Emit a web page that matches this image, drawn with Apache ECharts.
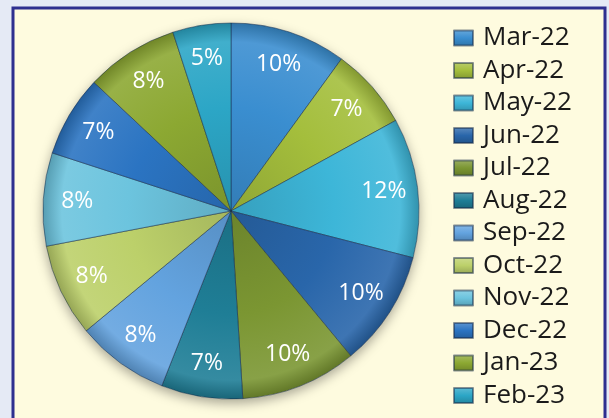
<!DOCTYPE html>
<html>
<head>
<meta charset="utf-8">
<title>Monthly share</title>
<script src="https://cdn.jsdelivr.net/npm/echarts@6/dist/echarts.min.js"></script>
<style>
  html, body { margin: 0; padding: 0; background: #e5eaf5; }
  #chart { width: 609px; height: 418px; }
</style>
</head>
<body>
<div id="chart"></div>
<script>
// months and their share (%)
const months = ['Mar-22', 'Apr-22', 'May-22', 'Jun-22', 'Jul-22', 'Aug-22',
  'Sep-22', 'Oct-22', 'Nov-22', 'Dec-22', 'Jan-23', 'Feb-23']
const shares = [10, 7, 12, 10, 10, 7, 8, 8, 8, 7, 8, 5]
const colors = ['#3a8ed0', '#a4be3c', '#3db6d8', '#2966aa', '#7b9632', '#1f7e96',
  '#63a3df', '#bcd06a', '#6cc4de', '#2b74c2', '#8ca832', '#2ca6c6']

const cx = 231, cy = 211, R = 188

// lighten (amt > 0) or darken (amt < 0) a hex colour
function shade(hex, amt) {
  let n = parseInt(hex.slice(1), 16)
  let rgb = [n >> 16, (n >> 8) & 255, n & 255].map(c => {
    let v = amt > 0 ? c + (255 - c) * amt : c * (1 + amt)
    return Math.round(Math.max(0, Math.min(255, v)))
  })
  return 'rgb(' + rgb.join(',') + ')'
}

function sliceFill(c) {
  return {
    type: 'radial', x: cx, y: cy, r: R, global: true,
    colorStops: [
      { offset: 0, color: shade(c, -0.12) },
      { offset: 0.55, color: c },
      { offset: 0.9, color: shade(c, 0.1) },
      { offset: 1, color: shade(c, -0.2) }
    ]
  }
}

function iconFill(c) {
  return {
    type: 'linear', x: 0, y: 0, x2: 0, y2: 1,
    colorStops: [
      { offset: 0, color: shade(c, 0.25) },
      { offset: 0.5, color: c },
      { offset: 1, color: shade(c, -0.2) }
    ]
  }
}

const pieData = months.map((m, i) => ({
  name: m,
  value: shares[i],
  itemStyle: { color: sliceFill(colors[i]) }
}))

const labelData = months.map((m, i) => ({ name: m, value: shares[i] }))

const option = {
  backgroundColor: '#e5eaf5',
  animation: false,
  graphic: [
    {
      type: 'rect', z: -10,
      shape: { x: 13, y: 8, width: 592, height: 420 },
      style: { fill: '#fefbdf', stroke: '#2e2f8f', lineWidth: 3 }
    }
  ],
  legend: {
    orient: 'vertical',
    left: 453,
    top: 25,
    height: 400,
    padding: 0,
    itemWidth: 19,
    itemHeight: 15,
    itemGap: 6.5,
    icon: 'rect',
    selectedMode: false,
    textStyle: {
      fontFamily: 'Open Sans', fontSize: 26, color: '#1a1a1a',
      lineHeight: 26, padding: [0, 0, 0, 5]
    },
    data: months.map((m, i) => ({ name: m, itemStyle: { color: iconFill(colors[i]) } }))
  },
  series: [
    {
      // soft shadow under the pie
      type: 'pie',
      silent: true,
      center: [cx, cy],
      radius: R,
      label: { show: false },
      itemStyle: { color: '#fefbdf', shadowBlur: 12, shadowOffsetY: 4, shadowColor: 'rgba(0,0,0,0.35)' },
      data: [{ name: '_bg', value: 1 }],
      z: 1
    },
    {
      type: 'pie',
      center: [cx, cy],
      radius: R,
      startAngle: 90,
      clockwise: true,
      label: { show: false },
      labelLine: { show: false },
      itemStyle: { borderColor: 'rgba(20,40,70,0.5)', borderWidth: 1 },
      emphasis: { disabled: true },
      data: pieData,
      z: 2
    },
    {
      // ring that only carries the percentage labels
      type: 'pie',
      silent: true,
      center: [cx, cy],
      radius: [114, R],
      startAngle: 90,
      clockwise: true,
      percentPrecision: 0,
      itemStyle: { color: 'rgba(0,0,0,0)', borderWidth: 0 },
      label: {
        show: true,
        position: 'inside',
        formatter: '{d}%',
        color: '#ffffff',
        fontFamily: 'Open Sans',
        fontSize: 23
      },
      labelLine: { show: false },
      emphasis: { disabled: true },
      data: labelData,
      z: 3
    }
  ]
}

const chart = echarts.init(document.getElementById('chart'))
chart.setOption(option)
</script>
</body>
</html>
